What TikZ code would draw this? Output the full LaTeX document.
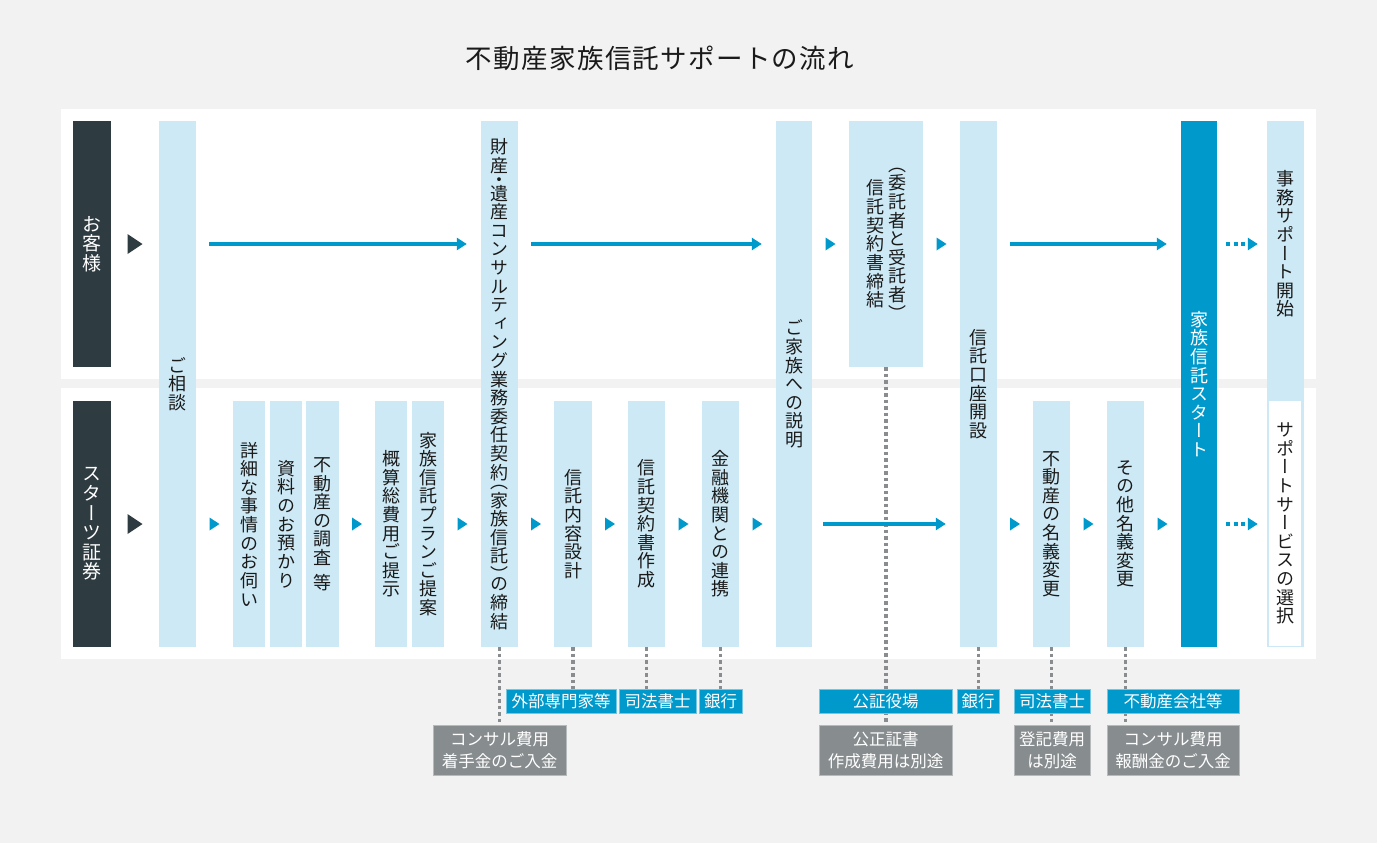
\documentclass[tikz,border=0pt]{standalone}
\usepackage{fontspec}
\setmainfont{Noto Sans CJK JP}
\newfontfamily\vfont[RawFeature=+vert]{Noto Sans CJK JP}
\usetikzlibrary{arrows.meta,calc}
\definecolor{bgc}{HTML}{F2F2F2}
\definecolor{lblue}{HTML}{CCE9F5}
\definecolor{dblue}{HTML}{0099CC}
\definecolor{dark}{HTML}{2E3B41}
\definecolor{gbox}{HTML}{878C8F}
\definecolor{dotc}{HTML}{8A8D8F}
\definecolor{txt}{HTML}{1A1A1A}
\pgfdeclarelayer{bg}\pgfdeclarelayer{lines}\pgfsetlayers{bg,lines,main}

\newdimen\vtpitch
\makeatletter
\def\vt@end{\vt@end}
\def\vgap{\vgap}
\newcommand\vt[2][18]{$\vcenter{\fontsize{#1pt}{#1pt}\vfont
  \vtpitch=1.034\dimexpr#1pt\relax
  \baselineskip=\vtpitch\lineskiplimit=-\maxdimen\lineskip=0pt
  \vt@#2\vt@end}$}
\def\vt@#1{\ifx#1\vt@end\else\vt@one#1\expandafter\vt@\fi}
\def\vt@box#1{\hbox to 1em{\hss#1\hss}}
\def\vt@one#1{%
  \ifx#1\vgap\vskip6pt\relax\else
  \ifx#1（\vskip-.5\vtpitch\relax\vt@box#1\else
  \ifx#1）\vt@box#1\vskip-.5\vtpitch\relax\else
  \ifx#1・\vskip-.25\vtpitch\relax\vt@box#1\vskip-.25\vtpitch\relax\else
  \vt@box#1\fi\fi\fi\fi}
\makeatother

\tikzset{
  lcol/.style={fill=lblue, inner sep=0pt, text=txt},
  kcol/.style={fill=dark, inner sep=0pt, text=white, minimum width=38, minimum height=246},
  blab/.style={fill=dblue, draw=dblue!55!white, line width=0.8pt, inner sep=0pt, text=white,
    minimum height=24, font=\fontsize{16.5pt}{20pt}\selectfont},
  glab/.style={fill=gbox, draw=gbox!60!white, line width=0.8pt, inner sep=0pt, text=white,
    minimum height=50, align=center, font=\fontsize{16.5pt}{22pt}\selectfont},
  barrow/.style={draw=dblue, line width=4pt, -{Triangle[length=10pt,width=12pt]}},
  darrow/.style={draw=dblue, line width=4pt, dash pattern=on 4pt off 3.5pt, -{Triangle[length=10pt,width=12pt]}},
  dotline/.style={draw=dotc, line width=3.3pt, dash pattern=on 3.5pt off 3pt},
  btri/.pic={\fill[dblue] (-5,-6.5) -- (5,0) -- (-5,6.5) -- cycle;},
  ktri/.pic={\fill[dark] (-7.5,-10) -- (7.5,0) -- (-7.5,10) -- cycle;},
}

\begin{document}
\begin{tikzpicture}[x=1pt,y=-1pt]
\begin{pgfonlayer}{bg}
\fill[bgc] (0,0) rectangle (1377,843);
\fill[white] (61,109) rectangle (1316,379);
\fill[white] (61,388) rectangle (1316,659);
\end{pgfonlayer}
\useasboundingbox (0,0) rectangle (1377,843);
\coordinate (r1) at (0,244);
\coordinate (r2) at (0,524);

\node[text=txt, font=\fontsize{26.5pt}{30pt}\selectfont\addfontfeature{LetterSpace=5}] (title) at (660,58) {不動産家族信託サポートの流れ};

% row labels
\node[kcol] (lab1) at (92,244) {\vt[19]{お客様}};
\node[kcol] (lab2) at (92,524) {\vt[19]{スターツ証券}};

% columns
\node[lcol, minimum width=37, minimum height=526] (soudan) at (177.5,384) {\vt{ご相談}};
\node[lcol, minimum width=32, minimum height=246] (s1) at (249,524) {\vt{詳細な事情のお伺い}};
\node[lcol, minimum width=32, minimum height=246] (s2) at (286,524) {\vt{資料のお預かり}};
\node[lcol, minimum width=33, minimum height=246] (s3) at (322.5,524) {\vt{不動産の調査\vgap 等}};
\node[lcol, minimum width=32, minimum height=246] (s4) at (391,524) {\vt{概算総費用ご提示}};
\node[lcol, minimum width=32, minimum height=246] (s5) at (428,524) {\vt{家族信託プランご提案}};
\node[lcol, minimum width=37, minimum height=526] (zaisan) at (499.5,384) {\vt{財産・遺産コンサルティング業務委任契約（家族信託）の締結}};
\node[lcol, minimum width=38, minimum height=246] (naiyou) at (573,524) {\vt{信託内容設計}};
\node[lcol, minimum width=37, minimum height=246] (sakusei) at (646.5,524) {\vt{信託契約書作成}};
\node[lcol, minimum width=37, minimum height=246] (kinyu) at (720.5,524) {\vt{金融機関との連携}};
\node[lcol, minimum width=36, minimum height=526] (kazoku) at (794,384) {\vt{ご家族への説明}};
\node[lcol, minimum width=74, minimum height=246] (itaku) at (886,244) {\vt{信託契約書締結}\hspace{4pt}\vt{（委託者と受託者）}};
\node[lcol, minimum width=37, minimum height=526] (kouza) at (978.5,384) {\vt{信託口座開設}};
\node[lcol, minimum width=37, minimum height=246] (meigi) at (1051.5,524) {\vt{不動産の名義変更}};
\node[lcol, minimum width=37, minimum height=246] (sonota) at (1125.5,524) {\vt{その他名義変更}};
\node[fill=dblue, inner sep=0pt, text=white, minimum width=36, minimum height=526] (start) at (1199,384) {\vt{家族信託スタート}};
\node[lcol, minimum width=37, minimum height=526] (jimu) at (1285.5,384) {};
\node[inner sep=0pt, text=txt] (jimuT) at (jimu.center |- r1) {\vt{事務サポート開始}};
\node[fill=white, inner sep=0pt, text=txt, minimum width=32, minimum height=245] (select) at (1285,523.5) {\vt{サポートサービスの選択}};

% labels
\node[blab, minimum width=110] (gaibu) at (561,701) {外部専門家等};
\node[blab, minimum width=77] (shiho1) at (657.5,701) {司法書士};
\node[blab, minimum width=43] (ginko1) at (720.5,701) {銀行};
\node[blab, minimum width=133] (kosho) at (885.5,701) {公証役場};
\node[blab, minimum width=42] (ginko2) at (978,701) {銀行};
\node[blab, minimum width=76] (shiho2) at (1052,701) {司法書士};
\node[blab, minimum width=132] (fudosan) at (1173,701) {不動産会社等};
\node[glab, minimum width=133] (consul1) at (499.5,750) {コンサル費用\\着手金のご入金};
\node[glab, minimum width=133] (kousei) at (885.5,750) {公正証書\\作成費用は別途};
\node[glab, minimum width=76] (touki) at (1052,750) {登記費用\\は別途};
\node[glab, minimum width=132] (consul2) at (1173,750) {コンサル費用\\報酬金のご入金};

% dotted connectors
\begin{pgfonlayer}{lines}
\draw[dotline] (zaisan.south) -- (consul1.north);
\draw[dotline] (naiyou.south) -- (naiyou.south |- gaibu.north);
\draw[dotline] (sakusei.south) -- (sakusei.south |- shiho1.north);
\draw[dotline] (kinyu.south) -- (kinyu.south |- ginko1.north);
\draw[dotline] (itaku.south) -- (itaku.south |- kousei.north);
\draw[dotline] (kouza.south) -- (kouza.south |- ginko2.north);
\draw[dotline] (meigi.south) -- (meigi.south |- touki.north);
\draw[dotline] (sonota.south) -- (sonota.south |- consul2.north);
\end{pgfonlayer}

% triangles
\pic at ($(lab1.east |- r1)!.5!(soudan.west |- r1)$) {ktri};
\pic at ($(lab2.east |- r2)!.5!(soudan.west |- r2)$) {ktri};
\pic at ($(kazoku.east |- r1)!.5!(itaku.west |- r1)$) {btri};
\pic at ($(itaku.east |- r1)!.5!(kouza.west |- r1)$) {btri};
\pic at ($(soudan.east |- r2)!.5!(s1.west |- r2)$) {btri};
\pic at ($(s3.east |- r2)!.5!(s4.west |- r2)$) {btri};
\pic at ($(s5.east |- r2)!.5!(zaisan.west |- r2)$) {btri};
\pic at ($(zaisan.east |- r2)!.5!(naiyou.west |- r2)$) {btri};
\pic at ($(naiyou.east |- r2)!.5!(sakusei.west |- r2)$) {btri};
\pic at ($(sakusei.east |- r2)!.5!(kinyu.west |- r2)$) {btri};
\pic at ($(kinyu.east |- r2)!.5!(kazoku.west |- r2)$) {btri};
\pic at ($(kouza.east |- r2)!.5!(meigi.west |- r2)$) {btri};
\pic at ($(meigi.east |- r2)!.5!(sonota.west |- r2)$) {btri};
\pic at ($(sonota.east |- r2)!.5!(start.west |- r2)$) {btri};

% arrows
\draw[barrow] ($(soudan.east |- r1)+(13,0)$) -- ($(zaisan.west |- r1)+(-14,0)$);
\draw[barrow] ($(zaisan.east |- r1)+(13,0)$) -- ($(kazoku.west |- r1)+(-14,0)$);
\draw[barrow] ($(kouza.east |- r1)+(13,0)$) -- ($(start.west |- r1)+(-14,0)$);
\draw[barrow] ($(kazoku.east |- r2)+(11,0)$) -- ($(kouza.west |- r2)+(-14,0)$);
\draw[darrow] ($(start.east |- r1)+(9,0)$) -- ($(jimu.west |- r1)+(-9,0)$);
\draw[darrow] ($(start.east |- r2)+(9,0)$) -- ($(jimu.west |- r2)+(-9,0)$);
\end{tikzpicture}
\end{document}
